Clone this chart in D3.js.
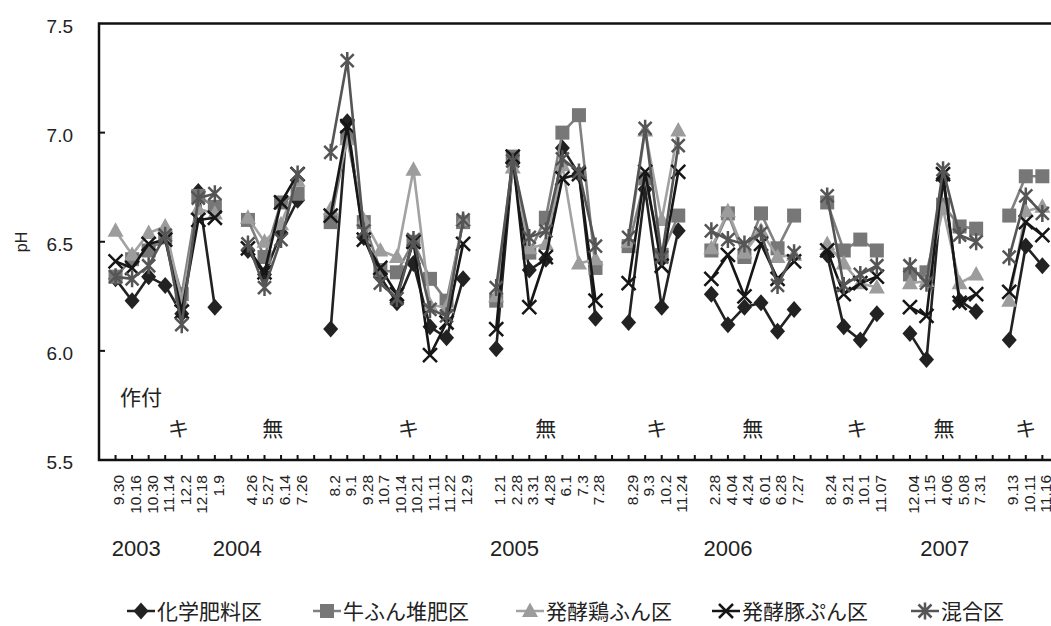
<!DOCTYPE html>
<html>
<head>
<meta charset="utf-8">
<script src="https://cdn.jsdelivr.net/npm/d3@7"></script>
<style>
  body { margin: 0; background: #fff; }
  svg { display: block; }
</style>
</head>
<body>
<div id="chart"></div>
<script>
// sampling dates (month.day); '' marks the empty slot between crop periods
const dates = [
  '9.30', '10.16', '10.30', '11.14', '12.2', '12.18', '1.9', '',
  '4.26', '5.27', '6.14', '7.26', '',
  '8.2', '9.1', '9.28', '10.7', '10.14', '10.21', '11.11', '11.22', '12.9', '',
  '1.21', '2.28', '3.31', '4.28', '6.1', '7.3', '7.28', '',
  '8.29', '9.3', '10.2', '11.24', '',
  '2.28', '4.04', '4.24', '6.01', '6.28', '7.27', '',
  '8.24', '9.21', '10.1', '11.07', '',
  '12.04', '1.15', '4.06', '5.08', '7.31', '',
  '9.13', '10.11', '11.16',
];

const seriesNames = ['化学肥料区', '牛ふん堆肥区', '発酵鶏ふん区', '発酵豚ぷん区', '混合区'];

const chemical = [
  6.33, 6.23, 6.34, 6.30, 6.17, 6.73, 6.20, null,
  6.46, 6.35, 6.54, 6.69, null,
  6.10, 7.05, 6.52, 6.34, 6.22, 6.40, 6.11, 6.06, 6.33, null,
  6.01, 6.86, 6.37, 6.42, 6.93, 6.81, 6.15, null,
  6.13, 6.74, 6.20, 6.55, null,
  6.26, 6.12, 6.20, 6.22, 6.09, 6.19, null,
  6.44, 6.11, 6.05, 6.17, null,
  6.08, 5.96, 6.79, 6.23, 6.18, null,
  6.05, 6.48, 6.39,
];
const cattle = [
  6.34, 6.42, 6.46, 6.52, 6.26, 6.71, 6.66, null,
  6.60, 6.43, 6.68, 6.72, null,
  6.59, 6.98, 6.59, 6.37, 6.36, 6.50, 6.33, 6.23, 6.59, null,
  6.23, 6.89, 6.45, 6.61, 7.00, 7.08, 6.38, null,
  6.48, 6.79, 6.44, 6.62, null,
  6.46, 6.63, 6.43, 6.63, 6.47, 6.62, null,
  6.68, 6.46, 6.51, 6.46, null,
  6.35, 6.36, 6.67, 6.57, 6.56, null,
  6.62, 6.80, 6.80,
];
const chicken = [
  6.55, 6.44, 6.54, 6.57, 6.23, 6.65, 6.63, null,
  6.61, 6.50, 6.58, 6.78, null,
  6.65, 6.97, 6.60, 6.46, 6.43, 6.83, 6.21, 6.20, 6.60, null,
  6.25, 6.84, 6.47, 6.49, 6.85, 6.40, 6.42, null,
  6.50, 7.01, 6.60, 7.01, null,
  6.47, 6.64, 6.45, 6.55, 6.43, 6.44, null,
  6.49, 6.40, 6.31, 6.29, null,
  6.31, 6.32, 6.65, 6.31, 6.35, null,
  6.23, 6.64, 6.66,
];
const swine = [
  6.41, 6.38, 6.49, 6.51, 6.18, 6.60, 6.61, null,
  6.47, 6.36, 6.68, 6.81, null,
  6.62, 7.03, 6.51, 6.38, 6.26, 6.50, 5.98, 6.13, 6.49, null,
  6.10, 6.89, 6.20, 6.43, 6.79, 6.81, 6.23, null,
  6.31, 6.82, 6.39, 6.82, null,
  6.33, 6.44, 6.25, 6.49, 6.33, 6.41, null,
  6.46, 6.26, 6.31, 6.34, null,
  6.20, 6.16, 6.81, 6.22, 6.26, null,
  6.27, 6.59, 6.53,
];
const mixed = [
  6.34, 6.33, 6.39, 6.53, 6.12, 6.70, 6.72, null,
  6.49, 6.29, 6.51, 6.81, null,
  6.91, 7.33, 6.55, 6.31, 6.24, 6.51, 6.19, 6.16, 6.60, null,
  6.29, 6.87, 6.52, 6.55, 6.88, 6.82, 6.48, null,
  6.52, 7.02, 6.43, 6.94, null,
  6.55, 6.51, 6.49, 6.54, 6.30, 6.45, null,
  6.71, 6.30, 6.35, 6.39, null,
  6.39, 6.31, 6.83, 6.53, 6.50, null,
  6.43, 6.71, 6.63,
];

const yTicks = [5.5, 6.0, 6.5, 7.0, 7.5];

// years and crop marks, anchored in category units (1 = first date)
const years = ['2003', '2004', '2005', '2006', '2007'];
const yearAt = [2.25, 8.35, 25.1, 38.0, 51.1];
const crops = ['キ', '無', 'キ', '無', 'キ', '無', 'キ', '無', 'キ'];
const cropAt = [4.8, 10.5, 18.7, 27.0, 33.7, 39.5, 45.8, 51.05, 56.0];

const width = 1051;
const height = 626;
const plot = { left: 99, top: 23.5, bottom: 460, step: 16.55 };

const svg = d3.select('#chart')
  .append('svg')
  .attr('width', width)
  .attr('height', height)
  .attr('font-family', '"Liberation Sans", Arial, sans-serif');

svg.append('rect')
  .attr('width', width)
  .attr('height', height)
  .attr('fill', '#fff');

// index 0 is the axis origin, dates start at 1
const x = d3.scaleLinear()
  .domain([0, dates.length])
  .range([plot.left, plot.left + plot.step * dates.length]);

const y = d3.scaleLinear()
  .domain([5.5, 7.5])
  .range([plot.bottom, plot.top]);

const xEnd = x(dates.length + 2);

// frame
svg.append('path')
  .attr('fill', 'none')
  .attr('stroke', '#111')
  .attr('stroke-width', 2.5)
  .attr('d', `M${xEnd},${y(7.5)}H${plot.left}V${y(5.5)}H${xEnd}`);

// y axis
const yAxis = svg.append('g').attr('class', 'axis axis-y');
yAxis.selectAll('line')
  .data(yTicks.slice(1, -1))
  .join('line')
  .attr('x1', plot.left)
  .attr('x2', plot.left + 6)
  .attr('y1', (d) => y(d))
  .attr('y2', (d) => y(d))
  .attr('stroke', '#111')
  .attr('stroke-width', 2);
yAxis.selectAll('text')
  .data(yTicks)
  .join('text')
  .attr('x', 73)
  .attr('y', (d) => y(d) + 2.5)
  .attr('dy', '0.35em')
  .attr('text-anchor', 'end')
  .attr('font-size', 19)
  .attr('fill', '#222')
  .text((d) => d.toFixed(1));

svg.append('text')
  .attr('transform', 'translate(21,242) rotate(-90)')
  .attr('dy', '0.35em')
  .attr('text-anchor', 'middle')
  .attr('font-size', 16)
  .attr('fill', '#222')
  .text('pH');

// x axis ticks and date labels
const xIdx = d3.range(1, dates.length + 2);
svg.append('g')
  .attr('class', 'axis axis-x')
  .selectAll('line')
  .data(xIdx)
  .join('line')
  .attr('x1', (i) => x(i))
  .attr('x2', (i) => x(i))
  .attr('y1', plot.bottom)
  .attr('y2', plot.bottom - 5)
  .attr('stroke', '#111')
  .attr('stroke-width', 2);

svg.append('g')
  .selectAll('text')
  .data(dates.map((label, i) => ({ label, i: i + 1 })).filter((d) => d.label))
  .join('text')
  .attr('transform', (d) => `translate(${x(d.i) + 3.5},475) rotate(-90)`)
  .attr('dy', '0.35em')
  .attr('text-anchor', 'end')
  .attr('font-size', 15.5)
  .attr('fill', '#222')
  .text((d) => d.label);

svg.append('g')
  .selectAll('text')
  .data(years)
  .join('text')
  .attr('x', (d, i) => x(yearAt[i]))
  .attr('y', 556)
  .attr('text-anchor', 'middle')
  .attr('font-size', 22)
  .attr('fill', '#222')
  .text((d) => d);

// crop annotations
const jp = '"Noto Sans CJK JP", sans-serif';
svg.append('text')
  .attr('x', 120)
  .attr('y', 405)
  .attr('font-family', jp)
  .attr('font-size', 21)
  .attr('fill', '#222')
  .text('作付');

svg.append('g')
  .selectAll('text')
  .data(crops)
  .join('text')
  .attr('x', (d, i) => x(cropAt[i]))
  .attr('y', 436)
  .attr('text-anchor', 'middle')
  .attr('font-family', jp)
  .attr('font-size', 21)
  .attr('fill', '#222')
  .text((d) => d);

// series
const styles = [
  { values: chemical, line: '#222', marker: 'diamond', fill: '#222' },
  { values: cattle, line: '#808080', marker: 'square', fill: '#777' },
  { values: chicken, line: '#a2a2a2', marker: 'triangle', fill: '#9c9c9c' },
  { values: swine, line: '#161616', marker: 'cross', fill: '#161616' },
  { values: mixed, line: '#555', marker: 'star', fill: '#555' },
];

const markerPath = {
  diamond: 'M0,-8.5L7.5,0L0,8.5L-7.5,0Z',
  square: 'M-7,-7H7V7H-7Z',
  triangle: 'M0,-8.5L8,6H-8Z',
  cross: 'M-7,-7L7,7M7,-7L-7,7',
  star: 'M-6.5,-6.5L6.5,6.5M6.5,-6.5L-6.5,6.5M0,-8.5V8.5',
};

const drawMarker = (sel, s) => {
  const stroked = s.marker === 'cross' || s.marker === 'star';
  sel.append('path')
    .attr('d', markerPath[s.marker])
    .attr('fill', stroked ? 'none' : s.fill)
    .attr('stroke', stroked ? s.fill : 'none')
    .attr('stroke-width', stroked ? 2.5 : 0);
};

const line = d3.line()
  .defined((d) => d.v != null)
  .x((d) => x(d.i))
  .y((d) => y(d.v));

styles.forEach((s) => {
  const pts = s.values.map((v, i) => ({ v, i: i + 1 }));
  const g = svg.append('g').attr('class', 'series');
  g.append('path')
    .attr('d', line(pts))
    .attr('fill', 'none')
    .attr('stroke', s.line)
    .attr('stroke-width', 2.6)
    .attr('stroke-linejoin', 'round');
  g.selectAll('g.mark')
    .data(pts.filter((d) => d.v != null))
    .join('g')
    .attr('class', 'mark')
    .attr('transform', (d) => `translate(${x(d.i)},${y(d.v)})`)
    .each(function () { drawMarker(d3.select(this), s); });
});

// legend
const legendX = [141, 327, 530, 726, 925];
const legend = svg.append('g')
  .attr('class', 'legend')
  .selectAll('g')
  .data(styles)
  .join('g')
  .attr('transform', (d, i) => `translate(${legendX[i]},611)`);

legend.append('line')
  .attr('x1', -14)
  .attr('x2', 14)
  .attr('stroke', (d) => d.line)
  .attr('stroke-width', 2.5);
legend.each(function (d) { drawMarker(d3.select(this), d); });
legend.append('text')
  .attr('x', 16)
  .attr('y', 8)
  .attr('font-family', jp)
  .attr('font-size', 21)
  .attr('fill', '#222')
  .text((d, i) => seriesNames[i]);
</script>
</body>
</html>
